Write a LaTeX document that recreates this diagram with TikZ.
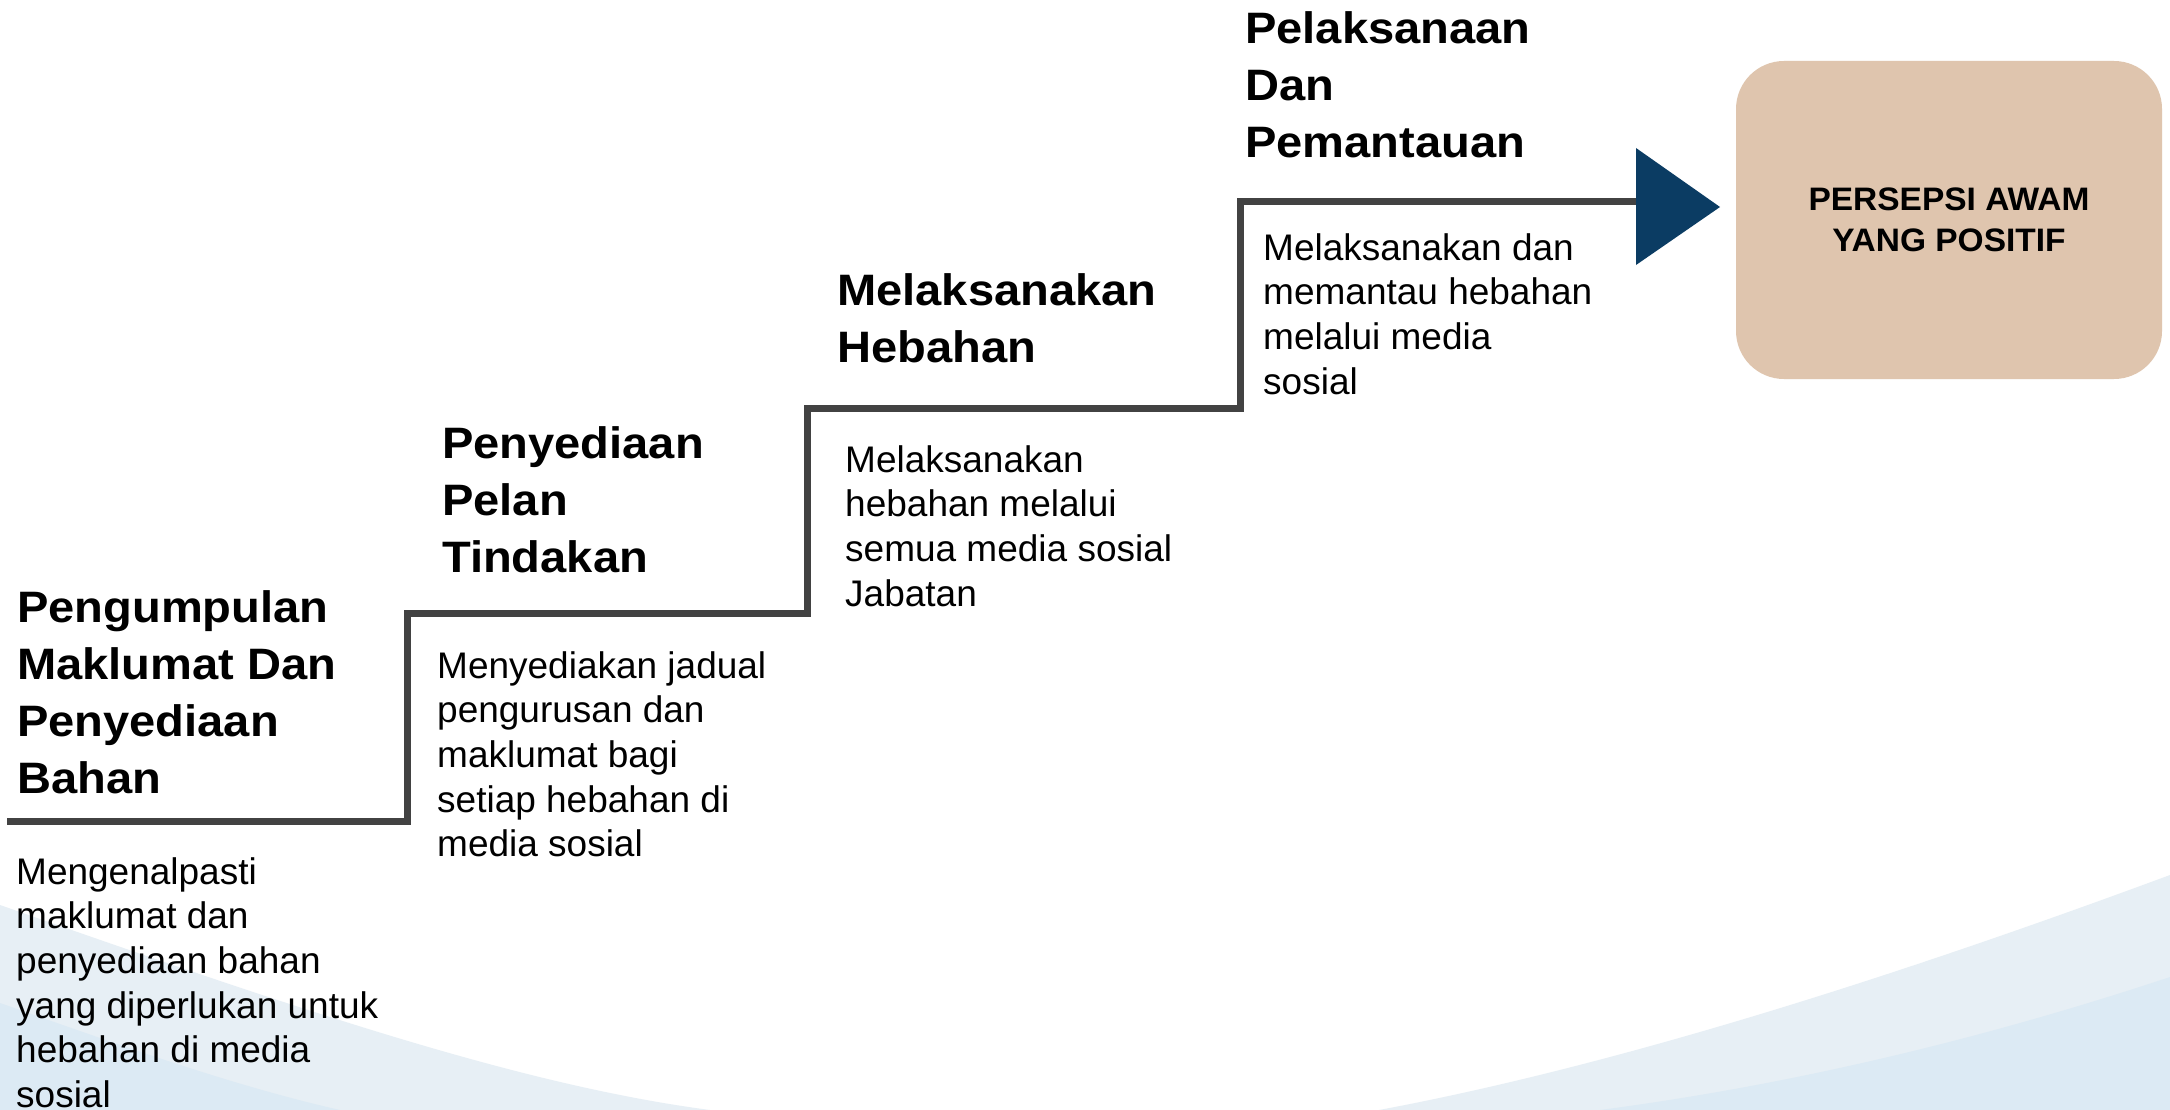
\documentclass[tikz,border=0pt]{standalone}
\usepackage{fontspec}
\setmainfont{Liberation Sans}
\newfontfamily\headfont[FakeStretch=1.07]{Liberation Sans}
\newfontfamily\boxfont[FakeStretch=1.03]{Liberation Sans}
\newcommand{\mystrut}{\rule{0pt}{0.9em}}
\definecolor{bandA}{HTML}{E7EFF5}
\definecolor{bandB}{HTML}{DCEAF4}
\definecolor{stairgray}{HTML}{424242}
\definecolor{navy}{HTML}{0B3C63}
\definecolor{tanbox}{HTML}{DFC5AE}
\tikzset{
  heading/.style={anchor=north west, inner sep=0pt, align=left,
    font=\headfont\bfseries\fontsize{44}{57}\selectfont},
  bodytext/.style={anchor=north west, inner sep=0pt, align=left,
    font=\fontsize{37}{44.6}\selectfont},
  stair/.style={draw=stairgray, line width=7pt, line join=miter},
  resultbox/.style={fill=tanbox, rounded corners=48pt, minimum width=426pt,
    minimum height=318pt, inner sep=0pt, align=center,
    font=\boxfont\bfseries\fontsize{32.5}{40.7}\selectfont}
}
\begin{document}
\begin{tikzpicture}[x=1pt,y=-1pt]
\fill[white] (0,0) rectangle (2170,1110);
\useasboundingbox (0,0) rectangle (2170,1110);
% background swooshes
\fill[bandA] (0,905) .. controls (300,1010) and (520,1085) .. (710,1110) -- (0,1110) -- cycle;
\fill[bandB] (0,1003) .. controls (120,1045) and (230,1085) .. (340,1110) -- (0,1110) -- cycle;
\fill[bandA] (2170,875) .. controls (1900,975) and (1620,1065) .. (1379,1110) -- (2170,1110) -- cycle;
\fill[bandB] (2170,977) .. controls (1980,1040) and (1790,1085) .. (1600,1110) -- (2170,1110) -- cycle;
% staircase
\coordinate (s0) at (7,821);
\coordinate (c1) at (407,821);
\coordinate (c2) at (407,613);
\coordinate (c3) at (807,613);
\coordinate (c4) at (807,408);
\coordinate (c5) at (1240,408);
\coordinate (c6) at (1240,202);
\coordinate (ab) at (1640,202);
\draw[stair] (s0) -- (c1) -- (c2) -- (c3) -- (c4) -- (c5) -- (c6) -- (ab);
% arrow head
\fill[navy] (1636,148) -- (1720,207) -- (1636,265) -- cycle;
% result box
\node[resultbox] (res) at (1949,220) {PERSEPSI AWAM\\YANG POSITIF};
% headings
\node[heading] (h1) at (17,582.4) {\mystrut Pengumpulan\\Maklumat Dan\\Penyediaan\\Bahan};
\node[heading] (h2) at (442,418.4) {\mystrut Penyediaan\\Pelan\\Tindakan};
\node[heading] (h3) at (837,265.4) {\mystrut Melaksanakan\\Hebahan};
\node[heading] (h4) at (1245,3.4) {\mystrut Pelaksanaan\\Dan\\Pemantauan};
% descriptions
\node[bodytext] (b1) at (16,850.7) {\mystrut Mengenalpasti\\maklumat dan\\penyediaan bahan\\yang diperlukan untuk\\hebahan di media\\sosial};
\node[bodytext] (b2) at (437,644.7) {\mystrut Menyediakan jadual\\pengurusan dan\\maklumat bagi\\setiap hebahan di\\media sosial};
\node[bodytext] (b3) at (845,438.7) {\mystrut Melaksanakan\\hebahan melalui\\semua media sosial\\Jabatan};
\node[bodytext] (b4) at (1263,226.7) {\mystrut Melaksanakan dan\\memantau hebahan\\melalui media\\sosial};
\end{tikzpicture}
\end{document}
